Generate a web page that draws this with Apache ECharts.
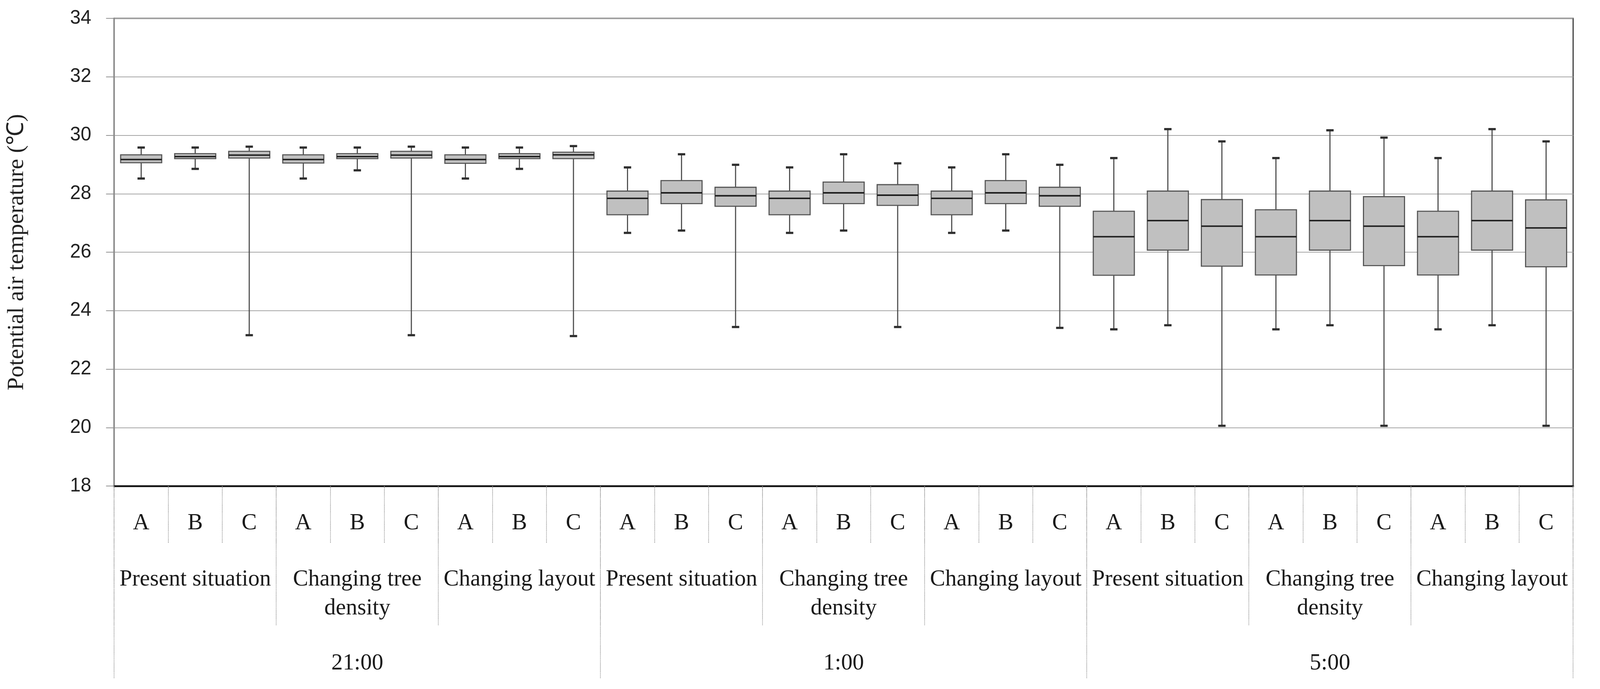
<!DOCTYPE html>
<html>
<head>
<meta charset="utf-8">
<script src="https://cdn.jsdelivr.net/npm/echarts@6/dist/echarts.min.js"></script>
<style>
html,body{margin:0;padding:0;background:#fff;overflow:hidden;}
#chart{position:absolute;left:0;top:0;}
</style>
</head>
<body>
<div id="chart"></div>
<script>
// ---- data ----
const subLabels = ['A', 'B', 'C'];
const scenarios = ['Present situation', 'Changing tree\ndensity', 'Changing layout'];
const times = ['21:00', '1:00', '5:00'];
const yTicks = { min: 18, max: 34, interval: 2 };
// each box: [lower whisker, Q1, median, Q3, upper whisker]
const box2100 = [
  [28.52, 29.06, 29.17, 29.33, 29.58],
  [28.85, 29.20, 29.27, 29.37, 29.58],
  [23.16, 29.22, 29.32, 29.45, 29.61],
  [28.52, 29.05, 29.17, 29.33, 29.58],
  [28.80, 29.20, 29.27, 29.37, 29.58],
  [23.16, 29.22, 29.32, 29.45, 29.61],
  [28.52, 29.04, 29.17, 29.33, 29.58],
  [28.85, 29.20, 29.27, 29.37, 29.58],
  [23.13, 29.20, 29.33, 29.42, 29.63]
];
const box0100 = [
  [26.66, 27.28, 27.84, 28.09, 28.90],
  [26.74, 27.66, 28.03, 28.45, 29.35],
  [23.44, 27.57, 27.93, 28.22, 28.99],
  [26.66, 27.28, 27.84, 28.09, 28.90],
  [26.74, 27.66, 28.03, 28.40, 29.35],
  [23.44, 27.60, 27.95, 28.31, 29.04],
  [26.66, 27.28, 27.84, 28.09, 28.90],
  [26.74, 27.66, 28.03, 28.45, 29.35],
  [23.41, 27.57, 27.93, 28.22, 28.99]
];
const box0500 = [
  [23.36, 25.21, 26.53, 27.40, 29.22],
  [23.50, 26.07, 27.08, 28.09, 30.21],
  [20.06, 25.52, 26.89, 27.80, 29.79],
  [23.36, 25.22, 26.53, 27.45, 29.22],
  [23.50, 26.07, 27.08, 28.09, 30.17],
  [20.06, 25.54, 26.89, 27.90, 29.92],
  [23.36, 25.22, 26.53, 27.40, 29.22],
  [23.50, 26.07, 27.08, 28.09, 30.21],
  [20.06, 25.50, 26.83, 27.79, 29.79]
];

// ---- build ----
const allBoxes = box2100.concat(box0100, box0500);
const catLevel1 = [];
for (let i = 0; i < times.length * scenarios.length; i++) catLevel1.push(...subLabels);
const catLevel2 = [];
for (let i = 0; i < times.length; i++) catLevel2.push(...scenarios);
const seriesData = allBoxes.map((b, i) => [i, b[0], b[1], b[2], b[3], b[4]]);

// layout designed for 4345x1765, scaled to the real viewport
const W = window.innerWidth || 4345;
const H = window.innerHeight || 1765;
const sx = W / 4345, sy = H / 1765, s = Math.min(sx, sy);
const el = document.getElementById('chart');
el.style.width = W + 'px';
el.style.height = H + 'px';

const serif = '"Liberation Serif", "Times New Roman", serif';
const sans = '"Liberation Sans", Arial, sans-serif';
const sepStyle = { color: '#8a8a8a', width: Math.max(1, 2 * s), type: 'dotted' };
const labelFont = 62 * s;

const chart = echarts.init(el);
chart.setOption({
  backgroundColor: '#ffffff',
  animation: false,
  grid: {
    left: 310 * sx, right: 73 * sx, top: 47 * sy, bottom: 520 * sy,
    show: true, borderColor: '#333333', borderWidth: 3 * s, backgroundColor: 'transparent'
  },
  xAxis: [
    {
      type: 'category', data: catLevel1, position: 'bottom',
      axisLine: { show: true, onZero: false, lineStyle: { color: '#111', width: 5 * s } },
      axisTick: { show: true, interval: 0, length: 147 * sy, lineStyle: sepStyle },
      axisLabel: { interval: 0, margin: 96 * sy, verticalAlign: 'middle', fontFamily: serif, fontSize: labelFont, color: '#1a1a1a' },
      splitLine: { show: false }
    },
    {
      type: 'category', data: catLevel2, position: 'bottom',
      axisLine: { show: false, onZero: false },
      axisTick: { show: true, interval: 0, length: 357 * sy, lineStyle: sepStyle },
      axisLabel: { interval: 0, margin: 203 * sy, verticalAlign: 'top', lineHeight: 74 * sy, fontFamily: serif, fontSize: labelFont, color: '#1a1a1a' },
      splitLine: { show: false }
    },
    {
      type: 'category', data: times, position: 'bottom',
      axisLine: { show: false, onZero: false },
      axisTick: { show: true, interval: 0, length: 492 * sy, lineStyle: sepStyle },
      axisLabel: { interval: 0, margin: 455 * sy, verticalAlign: 'middle', fontFamily: serif, fontSize: labelFont, color: '#1a1a1a' },
      splitLine: { show: false }
    }
  ],
  yAxis: {
    type: 'value', min: yTicks.min, max: yTicks.max, interval: yTicks.interval,
    name: 'Potential air temperature (℃)', nameLocation: 'middle', nameRotate: 90, nameGap: 232 * sx,
    nameTextStyle: { fontFamily: serif, fontSize: 60 * sy, color: '#222' },
    axisLine: { show: true, lineStyle: { color: '#8c8c8c', width: 4 * s } },
    axisTick: { show: true, length: 22 * sx, lineStyle: { color: '#8c8c8c', width: 2 * s } },
    axisLabel: { margin: 62 * sx, fontFamily: sans, fontSize: 52 * s, color: '#222' },
    splitLine: { show: true, lineStyle: { color: '#a6a6a6', width: 2 * s } }
  },
  series: [{
    type: 'custom',
    xAxisIndex: 0, yAxisIndex: 0,
    data: seriesData,
    encode: { x: 0, y: [1, 2, 3, 4, 5] },
    renderItem: function (params, api) {
      const x = api.value(0);
      const lo = api.coord([x, api.value(1)]);
      const q1 = api.coord([x, api.value(2)]);
      const md = api.coord([x, api.value(3)]);
      const q3 = api.coord([x, api.value(4)]);
      const hi = api.coord([x, api.value(5)]);
      const bw = api.size([1, 0])[0] * 0.76;
      const cx = lo[0];
      const cap = 10 * sx;
      const wStyle = { stroke: '#4a4a4a', lineWidth: 3 * s };
      const cStyle = { stroke: '#2e2e2e', lineWidth: 6 * s };
      return {
        type: 'group',
        children: [
          { type: 'line', shape: { x1: cx, y1: q3[1], x2: cx, y2: hi[1] }, style: wStyle },
          { type: 'line', shape: { x1: cx, y1: q1[1], x2: cx, y2: lo[1] }, style: wStyle },
          { type: 'line', shape: { x1: cx - cap, y1: hi[1], x2: cx + cap, y2: hi[1] }, style: cStyle },
          { type: 'line', shape: { x1: cx - cap, y1: lo[1], x2: cx + cap, y2: lo[1] }, style: cStyle },
          { type: 'rect', shape: { x: cx - bw / 2, y: q3[1], width: bw, height: q1[1] - q3[1] },
            style: { fill: '#c0c0c0', stroke: '#555555', lineWidth: 3 * s } },
          { type: 'line', shape: { x1: cx - bw / 2, y1: md[1], x2: cx + bw / 2, y2: md[1] },
            style: { stroke: '#1e1e1e', lineWidth: 4 * s } }
        ]
      };
    }
  }]
});
</script>
</body>
</html>
